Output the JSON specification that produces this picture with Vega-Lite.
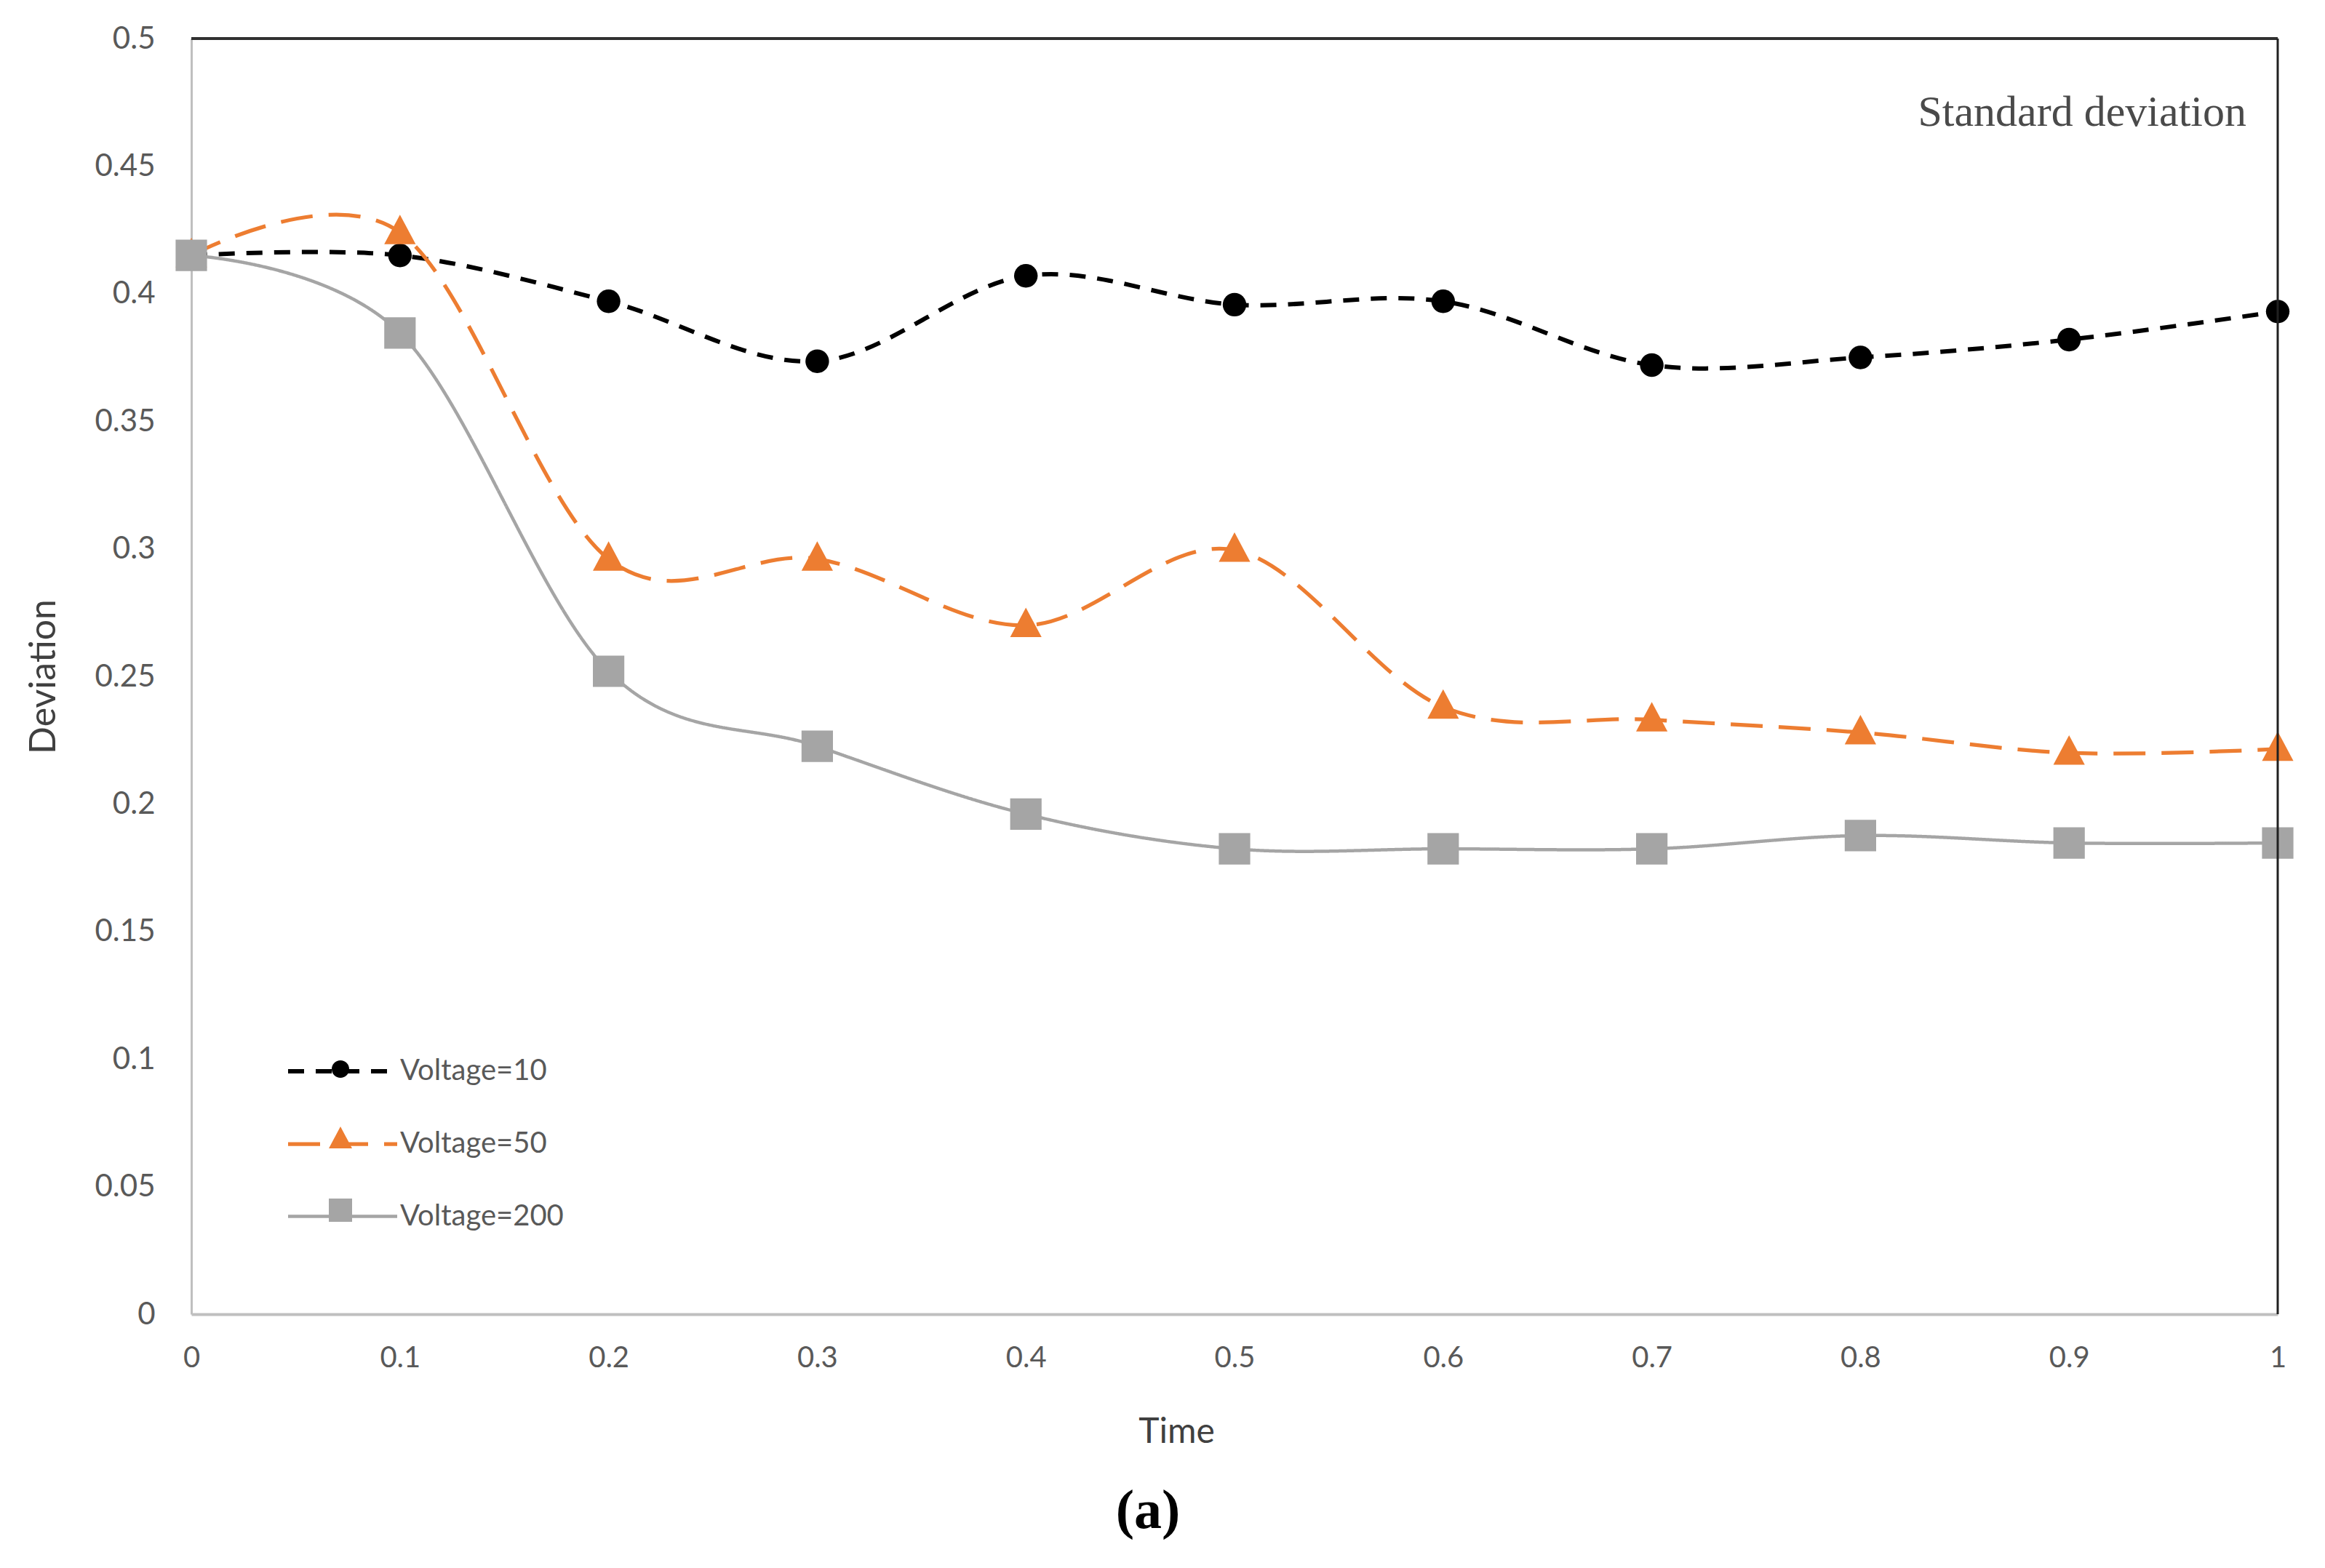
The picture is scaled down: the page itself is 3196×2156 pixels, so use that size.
{
  "$schema": "https://vega.github.io/schema/vega-lite/v6.json",
  "autosize": {"type": "none"},
  "width": 2868,
  "height": 1754,
  "padding": {"left": 263, "top": 53, "right": 65, "bottom": 349},
  "background": "white",
  "config": {"view": {"stroke": null}},
  "title": {"text": "(a)", "orient": "bottom", "anchor": "middle", "frame": "group", "dx": -119, "offset": 48, "font": "Liberation Serif", "fontSize": 76, "fontWeight": "bold", "color": "#000000"},
  "data": {
    "values": [
      {"t": 0.0, "dev": 0.415, "series": "Voltage=10", "v": 10},
      {"t": 0.1, "dev": 0.415, "series": "Voltage=10", "v": 10},
      {"t": 0.2, "dev": 0.397, "series": "Voltage=10", "v": 10},
      {"t": 0.3, "dev": 0.3735, "series": "Voltage=10", "v": 10},
      {"t": 0.4, "dev": 0.407, "series": "Voltage=10", "v": 10},
      {"t": 0.5, "dev": 0.3957, "series": "Voltage=10", "v": 10},
      {"t": 0.6, "dev": 0.397, "series": "Voltage=10", "v": 10},
      {"t": 0.7, "dev": 0.372, "series": "Voltage=10", "v": 10},
      {"t": 0.8, "dev": 0.375, "series": "Voltage=10", "v": 10},
      {"t": 0.9, "dev": 0.382, "series": "Voltage=10", "v": 10},
      {"t": 1.0, "dev": 0.393, "series": "Voltage=10", "v": 10},
      {"t": 0.0, "dev": 0.415, "series": "Voltage=50", "v": 50},
      {"t": 0.1, "dev": 0.424, "series": "Voltage=50", "v": 50},
      {"t": 0.2, "dev": 0.296, "series": "Voltage=50", "v": 50},
      {"t": 0.3, "dev": 0.296, "series": "Voltage=50", "v": 50},
      {"t": 0.4, "dev": 0.27, "series": "Voltage=50", "v": 50},
      {"t": 0.5, "dev": 0.2995, "series": "Voltage=50", "v": 50},
      {"t": 0.6, "dev": 0.238, "series": "Voltage=50", "v": 50},
      {"t": 0.7, "dev": 0.233, "series": "Voltage=50", "v": 50},
      {"t": 0.8, "dev": 0.228, "series": "Voltage=50", "v": 50},
      {"t": 0.9, "dev": 0.22, "series": "Voltage=50", "v": 50},
      {"t": 1.0, "dev": 0.2215, "series": "Voltage=50", "v": 50},
      {"t": 0.0, "dev": 0.415, "series": "Voltage=200", "v": 200},
      {"t": 0.1, "dev": 0.3846, "series": "Voltage=200", "v": 200},
      {"t": 0.2, "dev": 0.252, "series": "Voltage=200", "v": 200},
      {"t": 0.3, "dev": 0.2226, "series": "Voltage=200", "v": 200},
      {"t": 0.4, "dev": 0.196, "series": "Voltage=200", "v": 200},
      {"t": 0.5, "dev": 0.1824, "series": "Voltage=200", "v": 200},
      {"t": 0.6, "dev": 0.1824, "series": "Voltage=200", "v": 200},
      {"t": 0.7, "dev": 0.1824, "series": "Voltage=200", "v": 200},
      {"t": 0.8, "dev": 0.1876, "series": "Voltage=200", "v": 200},
      {"t": 0.9, "dev": 0.1847, "series": "Voltage=200", "v": 200},
      {"t": 1.0, "dev": 0.1847, "series": "Voltage=200", "v": 200}
    ]
  },
  "layer": [
    {
      "mark": {"type": "line", "interpolate": "cardinal"},
      "encoding": {
        "x": {
          "field": "t", "type": "quantitative",
          "scale": {"domain": [0, 1], "nice": false, "zero": false},
          "axis": {
            "values": [0, 0.1, 0.2, 0.3, 0.4, 0.5, 0.6, 0.7, 0.8, 0.9, 1],
            "format": "~g", "title": "Time", "grid": false, "ticks": false, "labelFlush": false,
            "domainColor": "#BFBFBF", "domainWidth": 4,
            "labelFont": "Lato", "labelFontSize": 40, "labelColor": "#595959", "labelPadding": 40,
            "titleFont": "Lato", "titleFontSize": 48, "titleFontWeight": "normal", "titleColor": "#404040",
            "titlePadding": 58, "titleX": 1354
          }
        },
        "y": {
          "field": "dev", "type": "quantitative",
          "scale": {"domain": [0, 0.5], "nice": false},
          "axis": {
            "values": [0, 0.05, 0.1, 0.15, 0.2, 0.25, 0.3, 0.35, 0.4, 0.45, 0.5],
            "format": "~g", "title": "Deviation", "grid": false, "ticks": false,
            "domainColor": "#BFBFBF", "domainWidth": 3,
            "labelFont": "Lato", "labelFontSize": 42, "labelColor": "#595959", "labelPadding": 50,
            "titleFont": "Lato", "titleFontSize": 50, "titleFontWeight": "normal", "titleColor": "#404040",
            "titlePadding": 45
          }
        },
        "stroke": {
          "field": "series", "type": "nominal",
          "scale": {"domain": ["Voltage=10", "Voltage=50", "Voltage=200"], "range": ["#000000", "#ED7D31", "#A5A5A5"]},
          "legend": {
            "orient": "none", "legendX": 185, "legendY": 1397, "title": null, "padding": 0,
            "symbolType": "M-3.75,0H3.75", "symbolSize": 1600,
            "labelFont": "Lato", "labelFontSize": 40, "labelColor": "#595959", "labelOffset": 56, "labelLimit": 0, "rowPadding": 57
          }
        },
        "strokeDash": {
          "field": "series", "type": "nominal",
          "scale": {"domain": ["Voltage=10", "Voltage=50", "Voltage=200"], "range": [[22, 16], [44, 22], [1, 0]]}
        },
        "strokeWidth": {
          "field": "series", "type": "nominal",
          "scale": {"domain": ["Voltage=10", "Voltage=50", "Voltage=200"], "range": [6, 4.5, 4]}
        }
      }
    },
    {
      "mark": {"type": "point", "filled": true, "size": 2916, "opacity": 1},
      "encoding": {
        "x": {"field": "t", "type": "quantitative"},
        "y": {"field": "dev", "type": "quantitative"},
        "fill": {
          "field": "v", "type": "nominal",
          "scale": {"domain": [10, 50, 200], "range": ["#000000", "#ED7D31", "#A5A5A5"]},
          "legend": {
            "orient": "none", "legendX": 185, "legendY": 1397, "title": null, "padding": 0,
            "symbolSize": 1600, "symbolStrokeWidth": 0,
            "labelFont": "Lato", "labelFontSize": 40, "labelExpr": "''", "labelOffset": 56, "rowPadding": 57
          }
        },
        "shape": {
          "field": "v", "type": "nominal",
          "scale": {"domain": [10, 50, 200], "range": [
            "M-0.6,0A0.6,0.6 0 1,0 0.6,0A0.6,0.6 0 1,0 -0.6,0Z",
            "M0,-0.9L0.8,0.6L-0.8,0.6Z",
            "M-0.8,-0.8H0.8V0.8H-0.8Z"
          ]}
        }
      }
    },
    {
      "data": {"values": [{"edge": "top"}]},
      "mark": {"type": "rule", "color": "#303030", "strokeWidth": 4},
      "encoding": {"y": {"datum": 0.5, "type": "quantitative"}}
    },
    {
      "data": {"values": [{"edge": "right"}]},
      "mark": {"type": "rule", "color": "#202020", "strokeWidth": 3},
      "encoding": {"x": {"datum": 1, "type": "quantitative"}}
    },
    {
      "data": {"values": [{"label": "Standard deviation"}]},
      "mark": {"type": "text", "align": "right", "baseline": "middle", "font": "Liberation Serif", "fontSize": 60, "color": "#4a4a4a"},
      "encoding": {
        "x": {"datum": 0.985, "type": "quantitative"},
        "y": {"datum": 0.471, "type": "quantitative"},
        "text": {"field": "label", "type": "nominal"}
      }
    }
  ]
}
